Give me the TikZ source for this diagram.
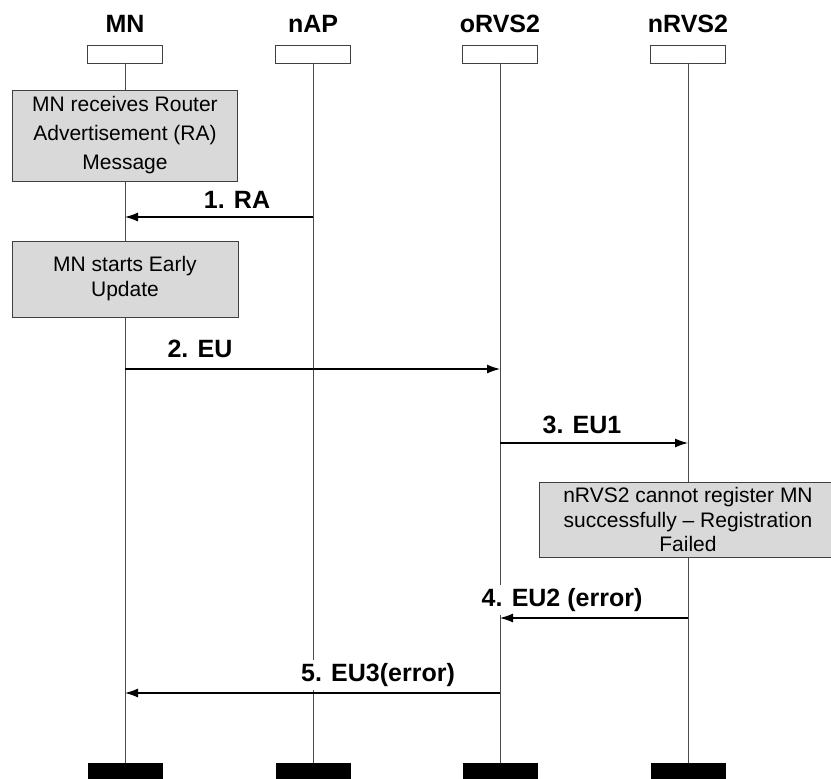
\documentclass[tikz,border=0pt]{standalone}
\usepackage{fontspec}
\setmainfont{Liberation Sans}
\usetikzlibrary{arrows.meta,positioning}

\tikzset{
    headbox/.style={draw=black!75, fill=white, minimum width=37.5pt, minimum height=9pt, inner sep=0pt},
    endbox/.style={fill=black, minimum width=37.5pt, minimum height=10pt, inner sep=0pt},
    notebox/.style={draw=black!75, fill=black!15, align=center, inner sep=0pt},
    title/.style={font=\fontsize{12.5}{14}\selectfont\bfseries},
    lifeline/.style={draw=black!70, line width=0.5pt},
    msg/.style={-{Latex[length=6.5pt,width=4.5pt]}, line width=0.6pt},
    msglabel/.style={fill=white, font=\fontsize{12.5}{14}\selectfont\bfseries, inner sep=1.5pt}
}

\begin{document}
\begin{tikzpicture}[x=0.5pt, y=-0.5pt]
    \clip (0,0) rectangle (831,778);
    \useasboundingbox (0,0) rectangle (831,778);

    % participants and lifelines
    \foreach \name/\xpos/\txt in {MN/125/MN, nAP/313/nAP, oRVS/500/oRVS2, nRVS/688/nRVS2} {
        \node[title] (\name t) at (\xpos, 24) {\txt};
        \node[headbox] (\name) at (\xpos, 54) {};
        \node[endbox] (\name e) at (\xpos, 773) {};
        \draw[lifeline] (\name) -- (\name e);
    }

    % notes
    \node[notebox, minimum width=112.5pt, minimum height=45.5pt,
          font=\fontsize{10.5}{14.5}\selectfont] (recvRA) at (125, 135.5)
        {MN receives Router\\Advertisement (RA)\\Message};
    \node[notebox, minimum width=113pt, minimum height=38pt,
          font=\fontsize{10.5}{12.5}\selectfont] (startEU) at (125, 279)
        {MN starts Early\\Update};
    \node[notebox, minimum width=149pt, minimum height=37.5pt,
          font=\fontsize{10.5}{12.25}\selectfont] (regFail) at (688, 519.5)
        {nRVS2 cannot register MN\\successfully -- Registration\\Failed};

    % message levels
    \coordinate (y1) at (0, 217);
    \coordinate (y2) at (0, 369);
    \coordinate (y3) at (0, 443);
    \coordinate (y4) at (0, 618);
    \coordinate (y5) at (0, 693);

    % message labels
    \node[msglabel] (ra) at (237, 200) {1. RA};
    \node[msglabel] (eu) at (200, 349) {2. EU};
    \node[msglabel] (eu1) at (582, 425) {3. EU1};
    \node[msglabel] (eu2) at (562, 600) {4. EU2 (error)};
    \node[msglabel] (eu3) at (378, 675) {5. EU3(error)};

    % messages
    \draw[msg] (nAP |- y1) -- (MN |- y1);
    \draw[msg] (MN |- y2) -- (oRVS |- y2);
    \draw[msg] (oRVS |- y3) -- (nRVS |- y3);
    \draw[msg] (nRVS |- y4) -- (oRVS |- y4);
    \draw[msg] (oRVS |- y5) -- (MN |- y5);
\end{tikzpicture}
\end{document}
